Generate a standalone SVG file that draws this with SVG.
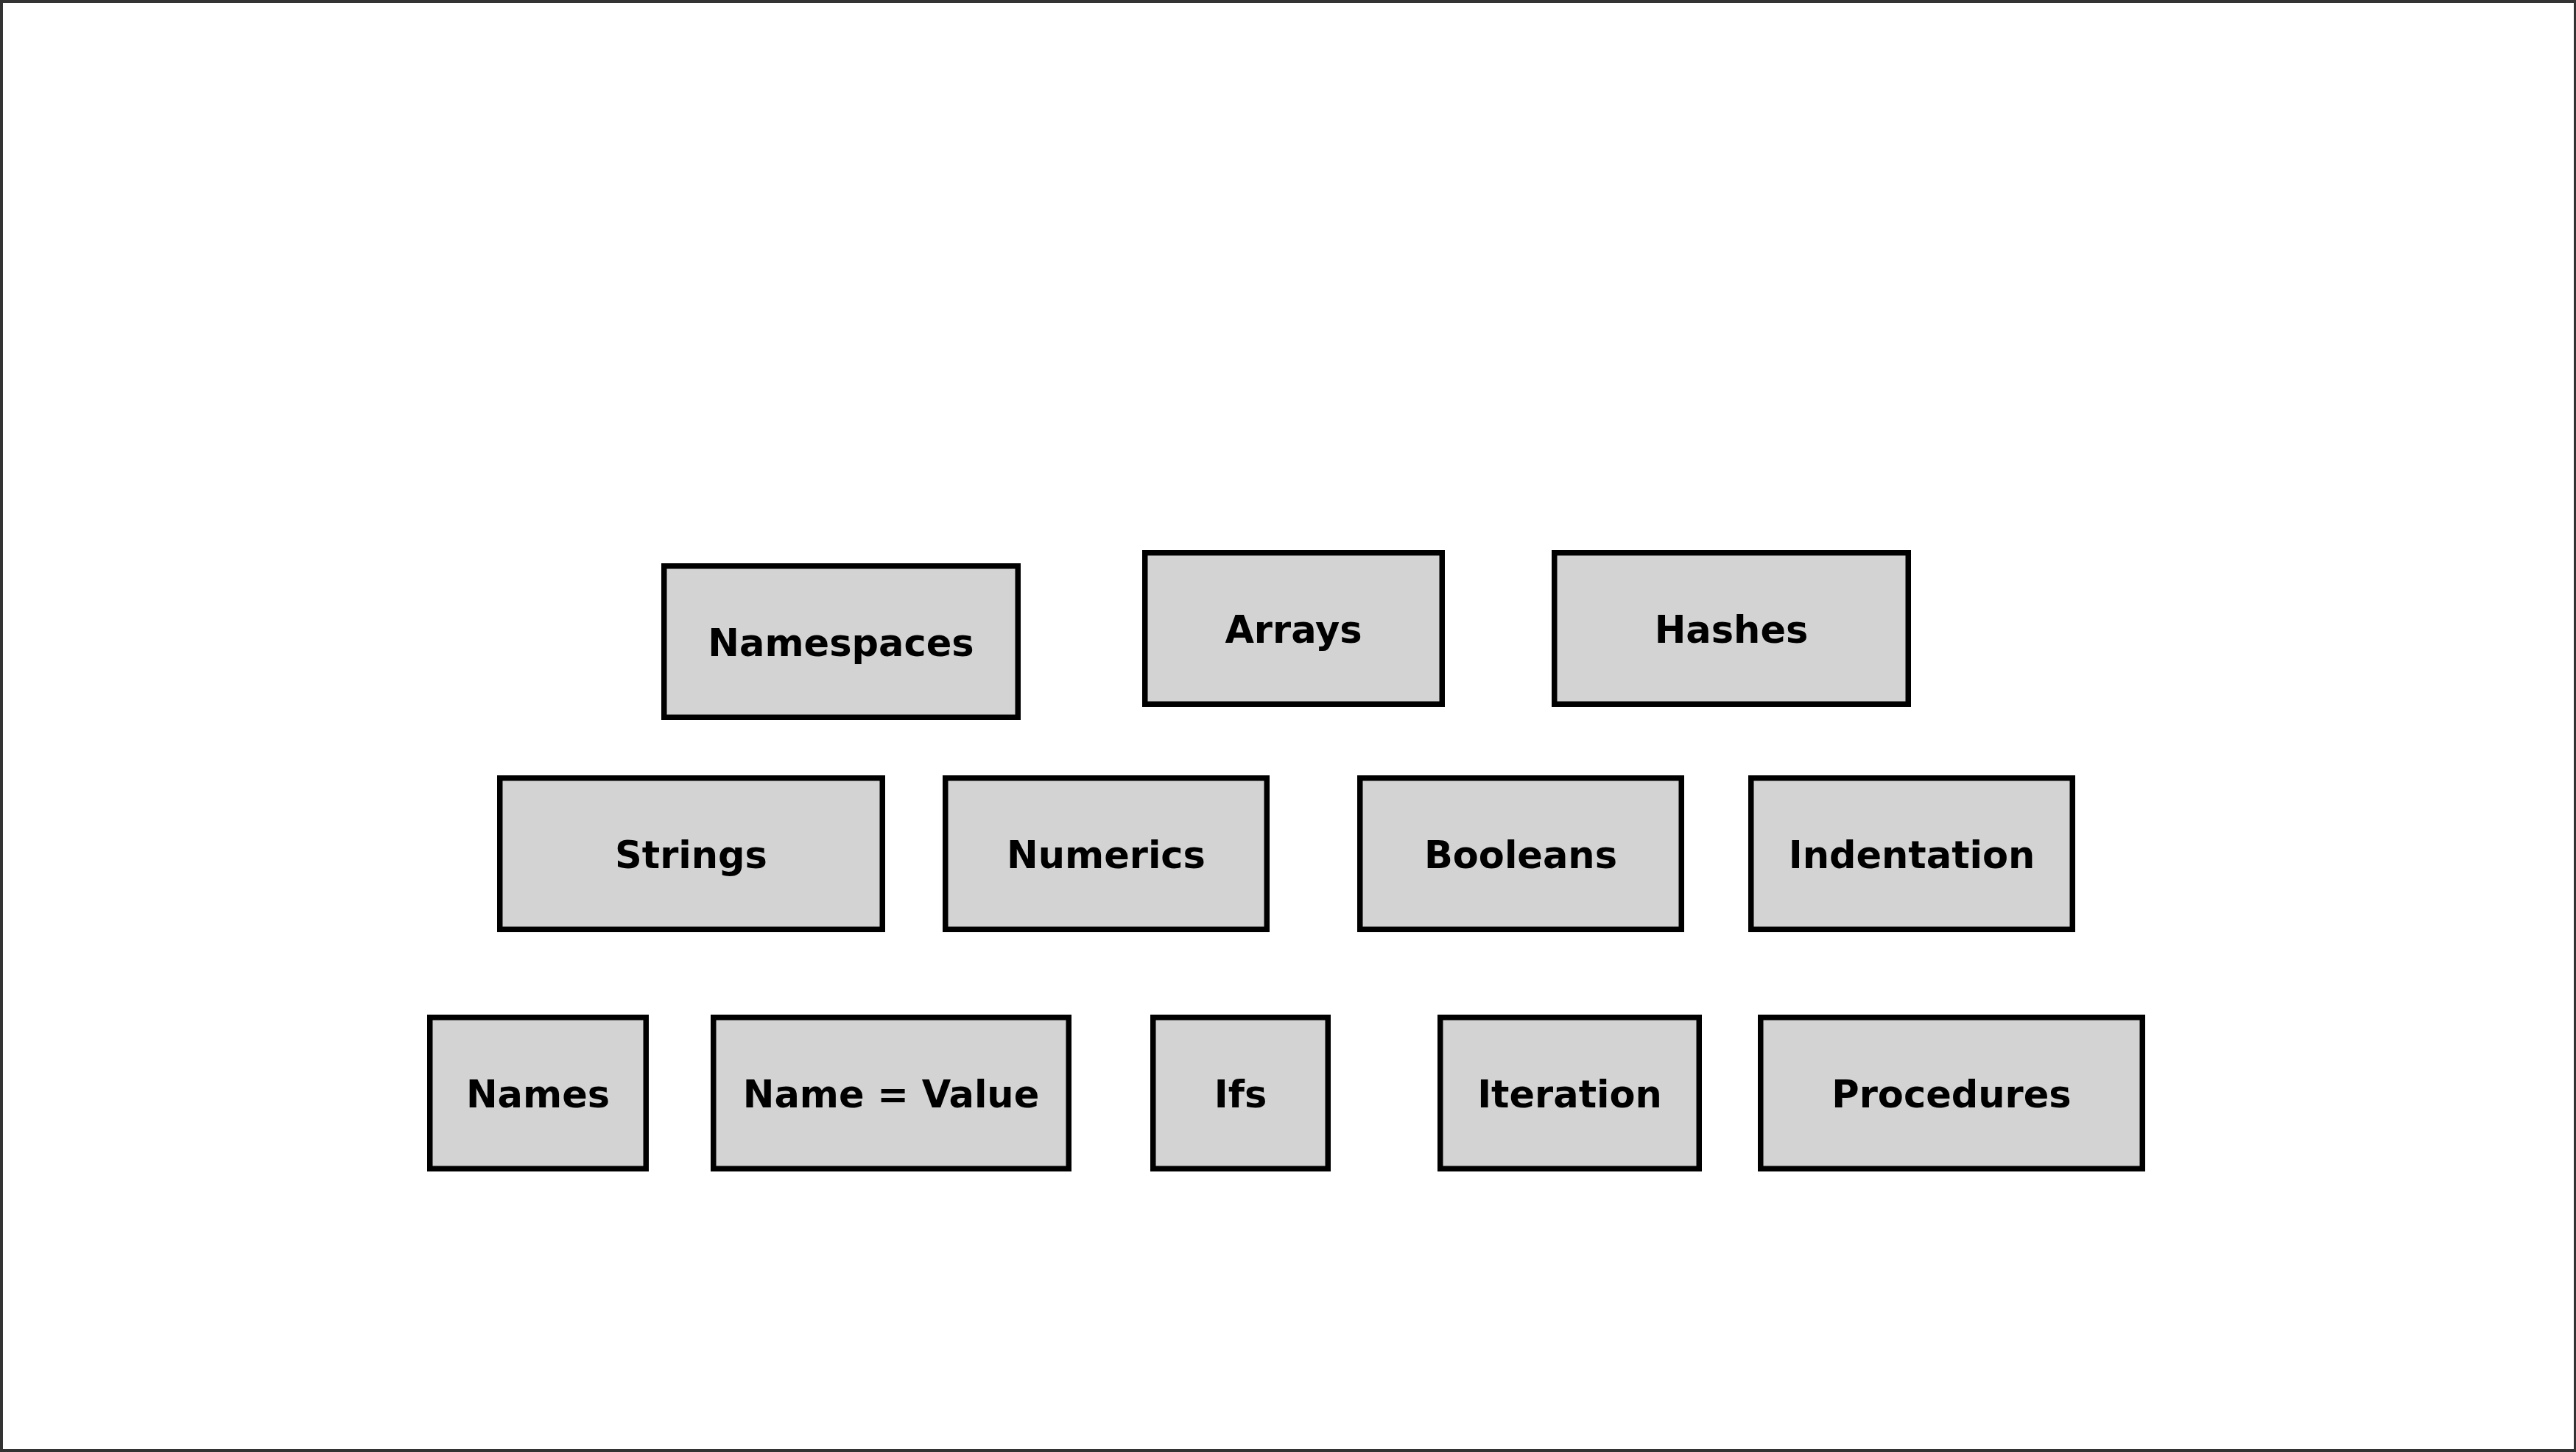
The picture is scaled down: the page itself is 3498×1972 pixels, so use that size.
<svg xmlns="http://www.w3.org/2000/svg" width="3498" height="1972" viewBox="0 0 3498 1972">
<style>
.box{fill:#d3d3d3;stroke:#000;stroke-width:7.5}
.lbl{font-family:"DejaVu Sans",sans-serif;font-weight:bold;font-size:51px;fill:#000;text-anchor:middle}
.frame{fill:#fff;stroke:#333;stroke-width:4}
</style>
<rect class="frame" x="2" y="2" width="3495" height="1968"/>
<g id="connectors"></g>
<g id="namespaces"><rect class="box" x="901.75" y="768.75" width="480.5" height="205.5"/><text class="lbl" x="1142" y="890.5">Namespaces</text></g>
<g id="arrays"><rect class="box" x="1554.75" y="750.75" width="403.5" height="205.5"/><text class="lbl" x="1756.5" y="872.5">Arrays</text></g>
<g id="hashes"><rect class="box" x="2110.75" y="750.75" width="480.5" height="205.5"/><text class="lbl" x="2351" y="872.5">Hashes</text></g>
<g id="strings"><rect class="box" x="678.75" y="1056.75" width="519.5" height="205.5"/><text class="lbl" x="938.5" y="1178.5">Strings</text></g>
<g id="numerics"><rect class="box" x="1283.75" y="1056.75" width="436.5" height="205.5"/><text class="lbl" x="1502" y="1178.5">Numerics</text></g>
<g id="booleans"><rect class="box" x="1846.75" y="1056.75" width="436.5" height="205.5"/><text class="lbl" x="2065" y="1178.5">Booleans</text></g>
<g id="indentation"><rect class="box" x="2377.75" y="1056.75" width="436.5" height="205.5"/><text class="lbl" x="2596" y="1178.5">Indentation</text></g>
<g id="names"><rect class="box" x="583.75" y="1381.75" width="293.5" height="205.5"/><text class="lbl" x="730.5" y="1503.5">Names</text></g>
<g id="namevalue"><rect class="box" x="968.75" y="1381.75" width="482.5" height="205.5"/><text class="lbl" x="1210" y="1503.5">Name = Value</text></g>
<g id="ifs"><rect class="box" x="1565.75" y="1381.75" width="237.5" height="205.5"/><text class="lbl" x="1684.5" y="1503.5">Ifs</text></g>
<g id="iteration"><rect class="box" x="1955.75" y="1381.75" width="351.5" height="205.5"/><text class="lbl" x="2131.5" y="1503.5">Iteration</text></g>
<g id="procedures"><rect class="box" x="2390.75" y="1381.75" width="518.5" height="205.5"/><text class="lbl" x="2650" y="1503.5">Procedures</text></g>
</svg>
